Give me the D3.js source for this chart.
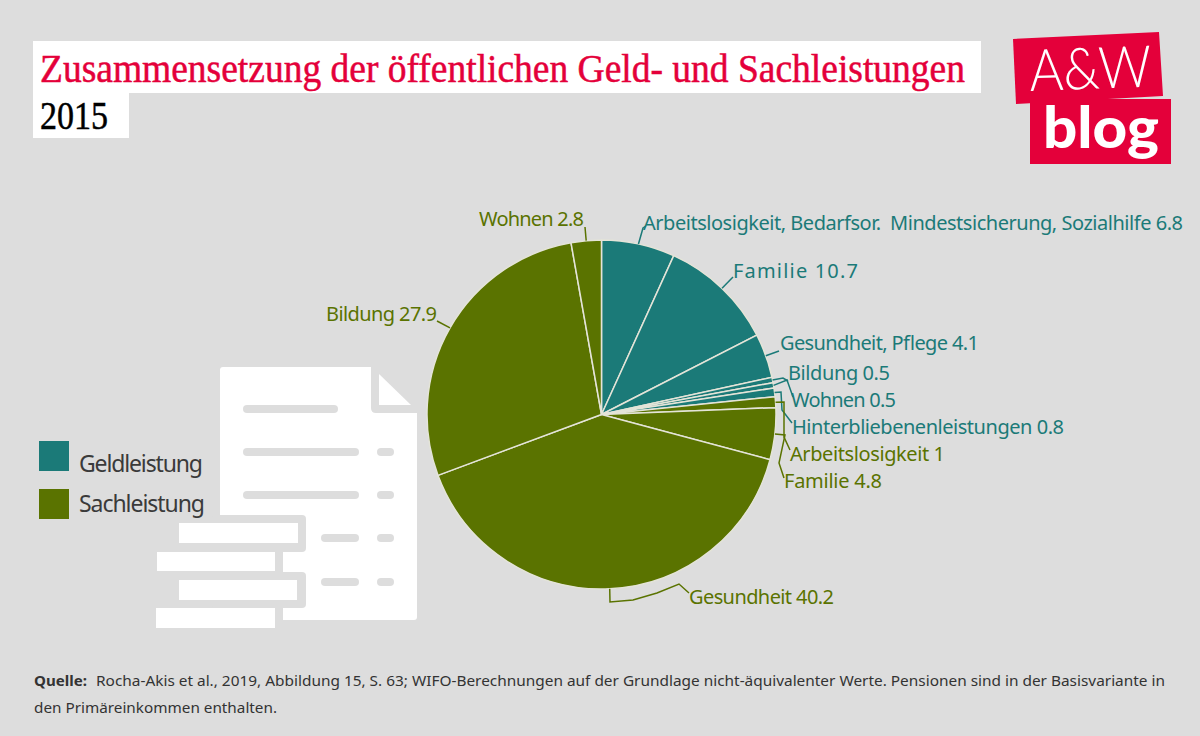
<!DOCTYPE html>
<html>
<head>
<meta charset="utf-8">
<script src="https://cdn.jsdelivr.net/npm/d3@7"></script>
<style>
  html, body { margin: 0; padding: 0; background: #dddddd; }
  svg { display: block; }
  text { white-space: pre; }
</style>
</head>
<body>
<svg id="chart" width="1200" height="736"></svg>
<script>
// values
var categories = ["Arbeitslosigkeit, Bedarfsor.  Mindestsicherung, Sozialhilfe", "Familie", "Gesundheit, Pflege", "Bildung", "Wohnen", "Hinterbliebenenleistungen", "Arbeitslosigkeit", "Familie", "Gesundheit", "Bildung", "Wohnen"]
var values = [6.8, 10.7, 4.1, 0.5, 0.5, 0.8, 1, 4.8, 40.2, 27.9, 2.8]
var kinds = ["Geldleistung", "Geldleistung", "Geldleistung", "Geldleistung", "Geldleistung", "Geldleistung", "Sachleistung", "Sachleistung", "Sachleistung", "Sachleistung", "Sachleistung"]
var legendKinds = ["Geldleistung", "Sachleistung"]
var kindColors = ["#1b7a78", "#5a7300"]

// label layout, kept apart from the data: x, baseline, width
var labelX = [643, 733, 780, 788, 791, 792, 790, 784, 689, 326, 479]
var labelY = [230, 278, 350, 380, 407, 434, 461, 488, 604, 321, 226]
var labelW = [540, 125, 199, 102, 105, 272, 155, 98, 145, 111, 105]
// bends of the leader lines after they leave the pie
var leaderBends = [
  [[643, 228], [646, 226]],
  [[733, 277]],
  [[779, 351]],
  [[783, 378], [788, 381]],
  [[787, 380], [793, 397]],
  [[781, 392], [782, 410], [792, 423]],
  [[784, 402], [784, 437], [790, 450]],
  [[785, 435], [779, 463], [784, 478]],
  [[610, 602], [633, 600], [657, 593], [679, 584], [689, 593]],
  [[437, 321]],
  [[585, 227]]
]

var svg = d3.select("#chart")
var color = d3.scaleOrdinal().domain(legendKinds).range(kindColors)

// title blocks
svg.append("rect").attr("x", 33).attr("y", 41).attr("width", 948).attr("height", 52).attr("fill", "#fff")
svg.append("rect").attr("x", 33).attr("y", 93).attr("width", 96).attr("height", 45).attr("fill", "#fff")
svg.append("text").attr("x", 40).attr("y", 82)
  .attr("font-family", "Liberation Serif").attr("font-size", 39).attr("fill", "#e4003a")
  .attr("stroke", "#e4003a").attr("stroke-width", 0.5)
  .attr("textLength", 925).attr("lengthAdjust", "spacingAndGlyphs")
  .text("Zusammensetzung der öffentlichen Geld- und Sachleistungen")
svg.append("text").attr("x", 40).attr("y", 129)
  .attr("font-family", "Liberation Serif").attr("font-size", 39).attr("fill", "#000")
  .attr("stroke", "#000").attr("stroke-width", 0.5)
  .attr("textLength", 68).attr("lengthAdjust", "spacingAndGlyphs")
  .text("2015")

// logo
var logo = svg.append("g")
logo.append("polygon").attr("points", "1013,39 1159,32 1163,96 1016,104").attr("fill", "#e4003a")
logo.append("rect").attr("x", 1030).attr("y", 99).attr("width", 141).attr("height", 65).attr("fill", "#e4003a")
logo.append("text").attr("x", 1030).attr("y", 91)
  .attr("font-family", "Lato").attr("font-weight", 300).attr("font-size", 58).attr("fill", "#fff")
  .attr("textLength", 122).attr("lengthAdjust", "spacingAndGlyphs")
  .attr("transform", "rotate(-2 1030 91)").text("A&W")
logo.append("text").attr("x", 1043).attr("y", 148)
  .attr("font-family", "Lato").attr("font-weight", 900).attr("font-size", 57).attr("fill", "#fff")
  .attr("textLength", 116).attr("lengthAdjust", "spacingAndGlyphs").text("blog")

// document and coins icon
var icon = svg.append("g")
icon.append("path").attr("fill", "#fff")
  .attr("d", "M223,367H371V408Q371,413 376,413H417V617Q417,620 414,620H283V552H220V370Q220,367 223,367Z")
icon.append("polygon").attr("points", "379,374 411,405 379,405").attr("fill", "#fff")
var iconGrey = "#dddddd"
icon.append("rect").attr("x", 212).attr("y", 515).attr("width", 94).attr("height", 37).attr("rx", 4).attr("fill", iconGrey)
icon.append("rect").attr("x", 212).attr("y", 572).attr("width", 94).attr("height", 36).attr("rx", 4).attr("fill", iconGrey)
icon.append("rect").attr("x", 212).attr("y", 548).attr("width", 71).attr("height", 30).attr("fill", iconGrey)
var iconLines = [[243, 409, 95], [243, 452, 116], [377, 452, 17], [243, 495, 116], [377, 495, 17], [321, 538, 38], [377, 538, 17], [321, 582, 38], [377, 582, 17]]
iconLines.forEach(function(l){
  icon.append("rect").attr("x", l[0]).attr("y", l[1] - 4).attr("width", l[2]).attr("height", 8).attr("rx", 4).attr("fill", iconGrey)
})
var iconBars = [[179, 523, 119, 20], [157, 552, 118, 19], [179, 580, 118, 20], [156, 608, 119, 20]]
iconBars.forEach(function(b){
  icon.append("rect").attr("x", b[0]).attr("y", b[1]).attr("width", b[2]).attr("height", b[3]).attr("fill", "#fff")
})

// pie
var cx = 601.5, cy = 414.5, radius = 174.5
var pie = d3.pie().sort(null).value(function(d){ return d })
var arc = d3.arc().innerRadius(0).outerRadius(radius)
var edge = d3.arc().innerRadius(radius).outerRadius(radius)
var arcs = pie(values)
var g = svg.append("g").attr("transform", "translate(" + cx + "," + cy + ")")

g.selectAll("path.slice").data(arcs).enter().append("path")
  .attr("class", "slice")
  .attr("d", arc)
  .attr("fill", function(d, i){ return color(kinds[i]) })
  .attr("stroke", "#e4e4d8")
  .attr("stroke-width", 1.5)

// leader lines
var line = d3.line()
svg.selectAll("path.leader").data(arcs).enter().append("path")
  .attr("class", "leader")
  .attr("fill", "none")
  .attr("stroke", function(d, i){ return color(kinds[i]) })
  .attr("stroke-width", 1.5)
  .attr("d", function(d, i){
    var p = edge.centroid(d)
    return line([[p[0] + cx, p[1] + cy]].concat(leaderBends[i]))
  })

// slice labels
svg.selectAll("text.label").data(categories).enter().append("text")
  .attr("class", "label")
  .attr("x", function(d, i){ return labelX[i] })
  .attr("y", function(d, i){ return labelY[i] })
  .attr("font-family", "Noto Sans")
  .attr("font-size", 20)
  .attr("fill", function(d, i){ return color(kinds[i]) })
  .attr("textLength", function(d, i){ return labelW[i] })
  .attr("lengthAdjust", "spacing")
  .text(function(d, i){ return d + " " + values[i] })

// legend
svg.selectAll("rect.key").data(legendKinds).enter().append("rect")
  .attr("class", "key")
  .attr("x", 39)
  .attr("y", function(d, i){ return 441 + i * 48 })
  .attr("width", 30)
  .attr("height", 30)
  .attr("fill", function(d){ return color(d) })
svg.selectAll("text.key").data(legendKinds).enter().append("text")
  .attr("class", "key")
  .attr("x", 79)
  .attr("y", function(d, i){ return 472 + i * 40 })
  .attr("font-family", "Noto Sans")
  .attr("font-size", 23)
  .attr("fill", "#3a3a3a")
  .attr("textLength", function(d, i){ return i == 0 ? 124 : 126 })
  .attr("lengthAdjust", "spacing")
  .text(function(d){ return d })

// source
svg.append("text").attr("x", 34).attr("y", 686)
  .attr("font-family", "Noto Sans").attr("font-weight", 700).attr("font-size", 15).attr("fill", "#333")
  .attr("textLength", 53).attr("lengthAdjust", "spacingAndGlyphs").text("Quelle:")
svg.append("text").attr("x", 96).attr("y", 686)
  .attr("font-family", "Noto Sans").attr("font-size", 15).attr("fill", "#333")
  .attr("textLength", 1069).attr("lengthAdjust", "spacingAndGlyphs")
  .text("Rocha-Akis et al., 2019, Abbildung 15, S. 63; WIFO-Berechnungen auf der Grundlage nicht-äquivalenter Werte. Pensionen sind in der Basisvariante in")
svg.append("text").attr("x", 34).attr("y", 713)
  .attr("font-family", "Noto Sans").attr("font-size", 15).attr("fill", "#333")
  .attr("textLength", 243).attr("lengthAdjust", "spacingAndGlyphs")
  .text("den Primäreinkommen enthalten.")
</script>
</body>
</html>
